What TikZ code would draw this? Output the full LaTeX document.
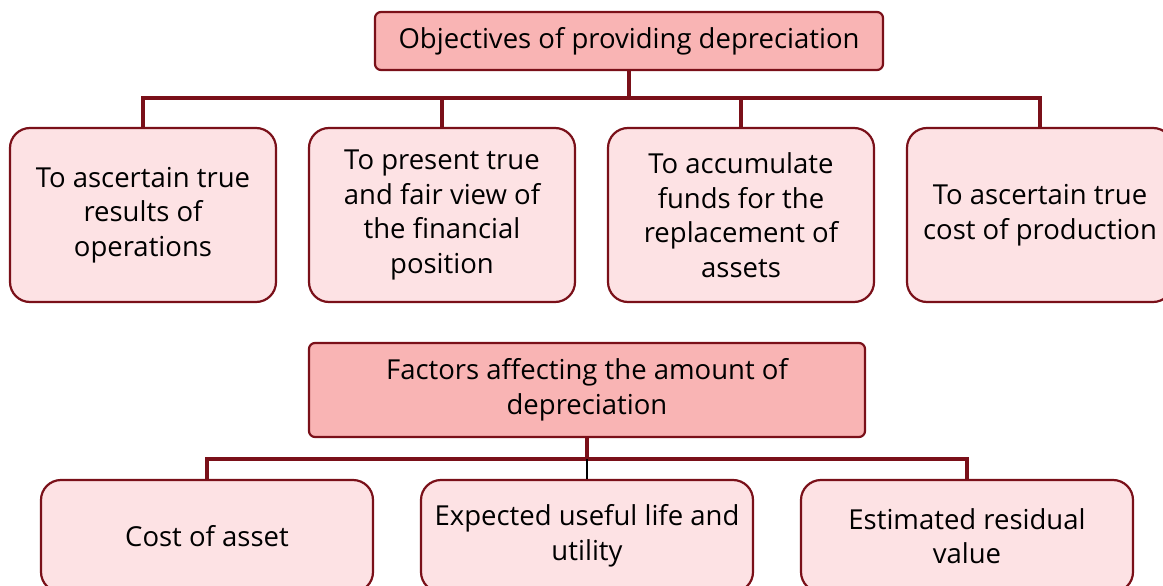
\documentclass[tikz,border=0pt]{standalone}
\usepackage{fontspec}
\setmainfont{Open Sans}
\usetikzlibrary{shapes}

\definecolor{boxline}{HTML}{7A1019}
\definecolor{headfill}{HTML}{F9B4B4}
\definecolor{itemfill}{HTML}{FDE2E4}

\begin{document}
\begin{tikzpicture}[x=1pt,y=-1pt]
	\tikzset{every node/.style={align=center,font=\fontsize{27.5}{34.5}\selectfont}}
	\tikzset{headbox/.style={draw=boxline,line width=2.2pt,fill=headfill,rounded corners=6pt,inner sep=0pt}}
	\tikzset{itembox/.style={draw=boxline,line width=2.2pt,fill=itemfill,rounded corners=20pt,inner sep=0pt}}
	\tikzset{link/.style={draw=boxline,line width=4.5pt}}
	\useasboundingbox (0,0) rectangle (1163,586);
	\clip (0,0) rectangle (1163,586);
	% objectives
	\node[headbox,minimum width=508pt,minimum height=58pt] (obj) at (629,41) {Objectives of providing depreciation};
	\node[itembox,minimum width=266pt,minimum height=174pt] (o1) at (143,215) {To ascertain true\\results of\\operations};
	\node[itembox,minimum width=266pt,minimum height=174pt] (o2) at (442,215) {To present true\\and fair view of\\the financial\\position};
	\node[itembox,minimum width=266pt,minimum height=174pt] (o3) at (741,215) {To accumulate\\funds for the\\replacement of\\assets};
	\node[itembox,minimum width=266pt,minimum height=174pt] (o4) at (1040,215) {To ascertain true\\cost of production};
	\coordinate (objbar) at (629,98);
	\draw[link] (obj.south) -- (objbar);
	\foreach \n in {o1,o2,o3,o4}
		\draw[link] (objbar) -| (\n.north);
	% factors
	\node[headbox,minimum width=556pt,minimum height=94pt] (fac) at (587,390) {Factors affecting the amount of\\depreciation};
	\node[itembox,minimum width=332pt,minimum height=112pt] (f1) at (207,536) {Cost of asset};
	\node[itembox,minimum width=332pt,minimum height=112pt] (f2) at (587,536) {Expected useful life and\\utility};
	\node[itembox,minimum width=332pt,minimum height=112pt] (f3) at (967,536) {Estimated residual\\value};
	\coordinate (facbar) at (587,459);
	\draw[link] (fac.south) -- (facbar);
	\draw[link] (facbar) -| (f1.north);
	\draw[link] (facbar) -| (f3.north);
	\draw[line width=2pt] (facbar) -- (f2.north);
\end{tikzpicture}
\end{document}
